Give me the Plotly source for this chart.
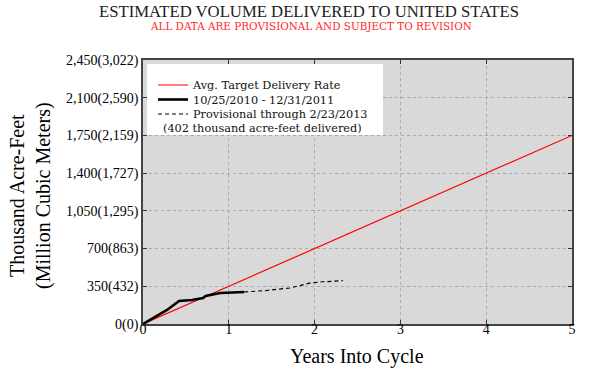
import plotly.graph_objects as go

# Data
target_x = [0, 5]
target_y = [0, 1750]

actual_x = [0, 0.14, 0.28, 0.42, 0.57, 0.70, 0.73, 0.90, 1.18]
actual_y = [0, 65, 130, 214, 223, 242, 260, 288, 297]

prov_x = [1.18, 1.45, 1.71, 1.85, 1.95, 2.10, 2.33]
prov_y = [297, 312, 334, 360, 381, 392, 402]

y_tickvals = [0, 350, 700, 1050, 1400, 1750, 2100, 2450]
y_ticktext = ["0(0)", "350(432)", "700(863)", "1,050(1,295)", "1,400(1,727)",
              "1,750(2,159)", "2,100(2,590)", "2,450(3,022)"]
x_tickvals = [0, 1, 2, 3, 4, 5]

SERIF = "Liberation Serif"
LEG = "DejaVu Serif"

L, R, T, B = 143, 28, 60, 47
W, H = 600, 371
plot_w = W - L - R
plot_h = H - T - B


def px(xp):
    return (xp - L) / plot_w


def py(yp):
    return (H - B - yp) / plot_h


fig = go.Figure()
fig.add_trace(go.Scatter(x=target_x, y=target_y, mode="lines",
                         line=dict(color="#ff0000", width=1.2),
                         name="Avg. Target Delivery Rate", legend="legend"))
fig.add_trace(go.Scatter(x=actual_x, y=actual_y, mode="lines",
                         line=dict(color="black", width=2.6),
                         name="10/25/2010 - 12/31/2011", legend="legend2"))
fig.add_trace(go.Scatter(x=prov_x, y=prov_y, mode="lines",
                         line=dict(color="black", width=1.2, dash="4px,3px"),
                         name="Provisional through 2/23/2013", legend="legend3"))


def leg(row_y):
    return dict(x=px(153), y=py(row_y), xanchor="left", yanchor="middle",
                bgcolor="rgba(0,0,0,0)", borderwidth=0,
                font=dict(family=LEG, size=11.3, color="#111"),
                itemwidth=30)


fig.update_layout(
    width=W, height=H,
    margin=dict(l=L, r=R, t=T, b=B, autoexpand=False),
    paper_bgcolor="white",
    plot_bgcolor="#d9d9d9",
    font=dict(family=SERIF, size=14, color="black"),
    showlegend=True,
    legend=leg(85),
    legend2=leg(99.5),
    legend3=leg(114),
    xaxis=dict(range=[0, 5], tickvals=x_tickvals, ticks="inside", ticklen=4,
               tickcolor="#333", showline=True, linecolor="#444", linewidth=1.6,
               mirror="allticks", showgrid=True, gridcolor="#aaaaaa",
               griddash="dot", gridwidth=1, zeroline=False, automargin=False,
               tickfont=dict(size=14, family=SERIF)),
    yaxis=dict(range=[0, 2450], tickvals=y_tickvals, ticktext=y_ticktext,
               ticks="inside", ticklen=4, tickcolor="#333", showline=True,
               linecolor="#444", linewidth=1.6, mirror="allticks",
               showgrid=True, gridcolor="#aaaaaa", griddash="dot", gridwidth=1,
               zeroline=False, automargin=False,
               tickfont=dict(size=14, family=SERIF)),
    shapes=[
        dict(type="rect", xref="paper", yref="paper",
             x0=px(147), x1=px(383), y0=py(135), y1=py(64),
             fillcolor="white", line=dict(width=0), layer="above"),
    ],
    annotations=[
        dict(text="ESTIMATED VOLUME DELIVERED TO UNITED STATES",
             x=px(309), y=py(12), xref="paper", yref="paper",
             xanchor="center", yanchor="middle", showarrow=False,
             font=dict(family=SERIF, size=16.7, color="#222")),
        dict(text="ALL DATA ARE PROVISIONAL AND SUBJECT TO REVISION",
             x=px(311), y=py(26), xref="paper", yref="paper",
             xanchor="center", yanchor="middle", showarrow=False,
             font=dict(family=LEG, size=10.4, color="#ff2a2a")),
        dict(text="Years Into Cycle", x=px(357), y=py(356),
             xref="paper", yref="paper", xanchor="center", yanchor="middle",
             showarrow=False, font=dict(family=SERIF, size=20)),
        dict(text="Thousand Acre-Feet<br>(Million Cubic Meters)",
             x=px(30), y=py(195), xref="paper", yref="paper",
             xanchor="center", yanchor="middle", textangle=-90,
             showarrow=False, font=dict(family=SERIF, size=20)),
        dict(text="(402 thousand acre-feet delivered)", x=px(161), y=py(128.5),
             xref="paper", yref="paper", xanchor="left", yanchor="middle",
             showarrow=False, font=dict(family=LEG, size=11.3, color="#111")),
    ],
)

try:
    fig.update_xaxes(ticklabelstandoff=-9)
except Exception:
    pass

fig.write_html("out.html",
               config=dict(displayModeBar=False),
               post_script="document.body.style.margin='0';"
                           "document.body.style.padding='0';")
